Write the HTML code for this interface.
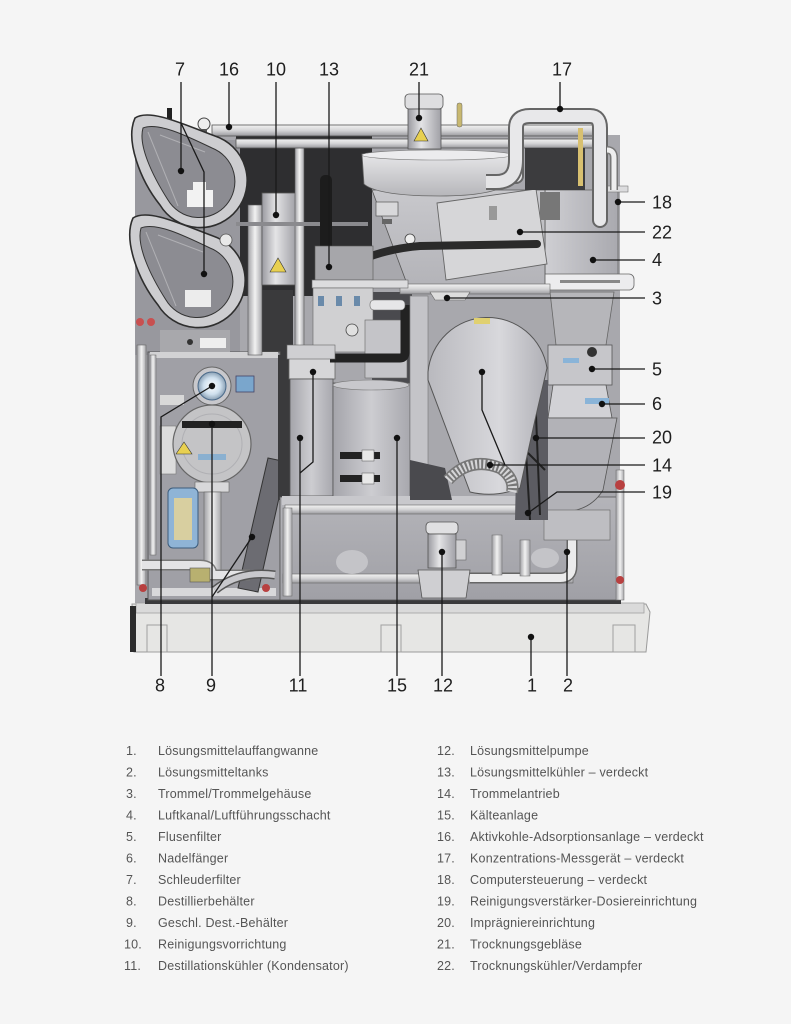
<!DOCTYPE html>
<html><head><meta charset="utf-8"><style>
html,body{margin:0;padding:0;background:#f5f5f5;}
svg{display:block;}
.lb{font-family:"Liberation Sans",sans-serif;font-size:18px;fill:#1e1e1e;}
.lg{font-family:"Liberation Sans",sans-serif;font-size:12.5px;fill:#555;letter-spacing:0.2px;}
</style></head><body>
<svg width="791" height="1024" viewBox="0 0 791 1024" xmlns="http://www.w3.org/2000/svg">
<defs>
<linearGradient id="duct" x1="0" x2="1"><stop offset="0" stop-color="#cfcfd3"/><stop offset="1" stop-color="#a9a9af"/></linearGradient>
<linearGradient id="drum" x1="0" x2="1"><stop offset="0" stop-color="#b9b9be"/><stop offset="0.6" stop-color="#d8d8dc"/><stop offset="1" stop-color="#b0b0b6"/></linearGradient>
<linearGradient id="cyl" x1="0" x2="1"><stop offset="0" stop-color="#9a9aa0"/><stop offset="0.4" stop-color="#e4e4e6"/><stop offset="1" stop-color="#a0a0a6"/></linearGradient>
<linearGradient id="cyl2" x1="0" x2="1"><stop offset="0" stop-color="#a4a4aa"/><stop offset="0.5" stop-color="#cdcdd1"/><stop offset="1" stop-color="#a8a8ae"/></linearGradient>
<linearGradient id="pipeH" x1="0" y1="0" x2="0" y2="1"><stop offset="0" stop-color="#f2f2f2"/><stop offset="0.5" stop-color="#d4d4d6"/><stop offset="1" stop-color="#9a9a9e"/></linearGradient>
<linearGradient id="pipeV" x1="0" x2="1"><stop offset="0" stop-color="#a0a0a4"/><stop offset="0.5" stop-color="#f2f2f2"/><stop offset="1" stop-color="#a8a8ac"/></linearGradient>
<linearGradient id="tank" x1="0" y1="0" x2="0" y2="1"><stop offset="0" stop-color="#b4b4b9"/><stop offset="1" stop-color="#a0a0a6"/></linearGradient>
<linearGradient id="bowl" x1="0" y1="0" x2="0" y2="1"><stop offset="0" stop-color="#e6e6e8"/><stop offset="1" stop-color="#b6b6ba"/></linearGradient>
<linearGradient id="box" x1="0" y1="0" x2="0" y2="1"><stop offset="0" stop-color="#c8c8cc"/><stop offset="1" stop-color="#b2b2b7"/></linearGradient>
<radialGradient id="glass"><stop offset="0" stop-color="#ffffff"/><stop offset="0.6" stop-color="#cfe0ee"/><stop offset="1" stop-color="#8aa0b4"/></radialGradient>
</defs>
<rect width="791" height="1024" fill="#f5f5f5"/>

<!-- ===== back plate ===== -->
<rect x="135" y="135" width="485" height="468" fill="#a8a8ad"/>
<!-- dark center -->
<rect x="236" y="136" width="136" height="160" fill="#2e2e30"/>
<rect x="248" y="290" width="45" height="75" fill="#3a3a3c"/>
<rect x="372" y="292" width="40" height="95" fill="#4a4a4e"/>
<!-- left panel behind filters -->
<rect x="135" y="140" width="105" height="215" fill="#98989e"/>

<!-- ===== base (1) ===== -->
<path d="M132,604 L646,604 L650,612 L646,652 L134,652 Z" fill="#e6e6e4" stroke="#9a9a9a" stroke-width="1"/>
<rect x="136" y="603" width="508" height="10" fill="#dadada" stroke="#a0a0a0" stroke-width="0.8"/>
<rect x="130" y="606" width="6" height="46" fill="#2c2c2c"/>
<rect x="147" y="625" width="20" height="27" fill="none" stroke="#a0a0a0" stroke-width="1"/>
<rect x="381" y="625" width="20" height="27" fill="none" stroke="#a0a0a0" stroke-width="1"/>
<rect x="613" y="625" width="22" height="27" fill="none" stroke="#a0a0a0" stroke-width="1"/>
<rect x="145" y="598" width="476" height="6" fill="#3a3a3c"/>

<!-- ===== lower left cabinet (8/9) ===== -->
<rect x="148" y="352" width="132" height="248" fill="#a0a0a6" stroke="#555" stroke-width="1"/>
<rect x="150" y="352" width="128" height="6" fill="#d2d2d4"/>
<rect x="152" y="588" width="124" height="8" fill="#d8d8da"/>
<!-- sight glass -->
<circle cx="212" cy="386" r="19" fill="#c8c8cc" stroke="#666" stroke-width="1"/>
<circle cx="212" cy="386" r="14" fill="url(#glass)" stroke="#4a6a8a" stroke-width="1"/>
<rect x="236" y="376" width="18" height="16" fill="#7aa6cc" stroke="#446" stroke-width="0.8"/>
<rect x="160" y="395" width="24" height="10" fill="#d8d8d8"/>
<rect x="160" y="426" width="16" height="48" fill="#dcdcdc" stroke="#777" stroke-width="0.6"/>
<!-- disc 9 -->
<circle cx="212" cy="444" r="39" fill="#c4c4c6" stroke="#666" stroke-width="1.2"/>
<circle cx="212" cy="444" r="30" fill="none" stroke="#b0b0b4" stroke-width="1"/>
<rect x="182" y="421" width="60" height="7" fill="#222"/>
<path d="M204,431 L212,419 L220,431 Z" fill="#e8d050" stroke="#333" stroke-width="0.6" transform="translate(-28,23)"/>
<rect x="198" y="454" width="28" height="6" fill="#8ab0d0"/>
<!-- neck below disc -->
<rect x="195" y="482" width="34" height="10" fill="#d8d8da" stroke="#666" stroke-width="0.6"/>
<rect x="204" y="492" width="17" height="80" fill="url(#pipeV)" stroke="#666" stroke-width="0.6"/>
<!-- blue filter -->
<rect x="168" y="488" width="30" height="60" rx="5" fill="#8fb4d6" stroke="#3c5c7c" stroke-width="1"/>
<rect x="174" y="498" width="18" height="42" fill="#d8cfa0"/>
<!-- diagonal bar -->
<path d="M268,458 L287,462 L258,592 L238,588 Z" fill="#6c6c72" stroke="#333" stroke-width="1"/>
<!-- left vertical pipes -->
<rect x="137" y="345" width="9" height="240" fill="url(#pipeV)" stroke="#666" stroke-width="0.6"/>
<rect x="150" y="355" width="6" height="200" fill="url(#pipeV)" stroke="#666" stroke-width="0.5"/>
<!-- bottom pipes -->
<path d="M142,565 L200,565 Q212,565 212,575 L250,575" fill="none" stroke="#777" stroke-width="11"/>
<path d="M142,565 L200,565 Q212,565 212,575 L250,575" fill="none" stroke="#e4e4e6" stroke-width="8"/>
<path d="M215,590 Q240,570 275,575" fill="none" stroke="#555" stroke-width="9"/>
<path d="M215,590 Q240,570 275,575" fill="none" stroke="#c8c8cc" stroke-width="6"/>
<rect x="190" y="568" width="20" height="14" fill="#b8b070" stroke="#555" stroke-width="0.6"/>
<circle cx="143" cy="588" r="4" fill="#b84040"/>
<circle cx="266" cy="588" r="4" fill="#b84040"/>
<circle cx="140" cy="322" r="4" fill="#c85050"/>
<circle cx="151" cy="322" r="4" fill="#c85050"/>

<!-- ===== divider + 11 + 15 ===== -->
<rect x="278" y="355" width="14" height="145" fill="#3a3a3c"/>
<rect x="289" y="357" width="46" height="22" fill="#d6d6d8" stroke="#666" stroke-width="0.8"/>
<rect x="290" y="379" width="43" height="117" fill="url(#cyl2)" stroke="#555" stroke-width="0.8"/>
<rect x="333" y="383" width="77" height="117" fill="url(#cyl2)" stroke="#555" stroke-width="0.8"/>
<ellipse cx="371" cy="385" rx="38" ry="5" fill="#c8c8cc" stroke="#777" stroke-width="0.6"/>
<rect x="340" y="452" width="40" height="7" fill="#222"/>
<rect x="362" y="450" width="12" height="11" fill="#e8e8e8" stroke="#555" stroke-width="0.5"/>
<rect x="340" y="475" width="40" height="7" fill="#222"/>
<rect x="362" y="473" width="12" height="11" fill="#e8e8e8" stroke="#555" stroke-width="0.5"/>
<rect x="410" y="296" width="18" height="204" fill="#c4c4c8" stroke="#777" stroke-width="0.6"/>

<!-- ===== lower right tank (2) ===== -->
<rect x="280" y="497" width="340" height="103" fill="url(#tank)" stroke="#555" stroke-width="0.8"/>
<rect x="282" y="496" width="262" height="9" fill="#c8c8cc"/>
<rect x="285" y="505" width="255" height="9" fill="url(#pipeH)" stroke="#666" stroke-width="0.6"/>
<rect x="283" y="574" width="290" height="9" fill="url(#pipeH)" stroke="#666" stroke-width="0.6"/>
<rect x="283" y="508" width="9" height="88" fill="url(#pipeV)" stroke="#666" stroke-width="0.5"/>
<ellipse cx="352" cy="562" rx="16" ry="12" fill="#c4c4c8"/>
<ellipse cx="545" cy="558" rx="14" ry="10" fill="#c4c4c8"/>
<!-- pump 12 -->
<rect x="426" y="522" width="32" height="12" rx="4" fill="#e0e0e2" stroke="#555" stroke-width="0.8"/>
<rect x="428" y="534" width="28" height="34" fill="url(#cyl)" stroke="#555" stroke-width="0.8"/>
<rect x="456" y="540" width="10" height="20" fill="#d0d0d2" stroke="#666" stroke-width="0.6"/>
<path d="M418,570 L470,570 L466,598 L422,598 Z" fill="#cfcfd2" stroke="#555" stroke-width="0.8"/>
<path d="M470,578 L560,578 Q572,578 572,566 L572,540" fill="none" stroke="#666" stroke-width="11"/>
<path d="M470,578 L560,578 Q572,578 572,566 L572,540" fill="none" stroke="#ebebec" stroke-width="8"/>
<rect x="492" y="535" width="10" height="40" fill="url(#pipeV)" stroke="#666" stroke-width="0.5"/>
<rect x="520" y="540" width="10" height="36" fill="url(#pipeV)" stroke="#666" stroke-width="0.5"/>
<!-- right vertical pipe -->
<rect x="616" y="470" width="8" height="130" fill="url(#pipeV)" stroke="#666" stroke-width="0.5"/>
<circle cx="620" cy="485" r="5" fill="#b84040"/>
<circle cx="620" cy="580" r="4" fill="#b84040"/>

<!-- ===== right column: duct 4, filters 5/6 ===== -->
<rect x="545" y="190" width="73" height="100" fill="url(#duct)" stroke="#666" stroke-width="0.8"/>
<rect x="596" y="186" width="32" height="6" fill="#dcdcde" stroke="#777" stroke-width="0.6"/>
<path d="M550,292 L614,292 L606,345 L556,345 Z" fill="#b6b6ba" stroke="#666" stroke-width="0.8"/>
<rect x="548" y="345" width="64" height="40" fill="#c6c6ca" stroke="#555" stroke-width="0.8"/>
<path d="M553,385 L606,385 L612,418 L548,418 Z" fill="#d2d2d6" stroke="#555" stroke-width="0.8"/>
<rect x="585" y="398" width="24" height="6" fill="#8ab4d8"/>
<circle cx="592" cy="352" r="5" fill="#333"/>
<rect x="563" y="358" width="16" height="5" fill="#8ab4d8"/>
<path d="M546,418 L617,418 L603,490 Q590,512 560,512 L546,512 Z" fill="#b2b2b7" stroke="#555" stroke-width="0.8"/>
<rect x="544" y="510" width="66" height="30" fill="#bebec2" stroke="#666" stroke-width="0.6"/>
<rect x="540" y="274" width="94" height="16" rx="5" fill="#ececee" stroke="#666" stroke-width="0.8"/>
<rect x="560" y="280" width="60" height="3" fill="#888"/>

<!-- ===== drum (3) + mechanisms ===== -->
<path d="M518,380 L548,380 L548,520 L515,520 Z" fill="#5c5c62"/>
<path d="M522,385 L530,520 M535,390 L540,515 M525,450 L545,470" stroke="#222" stroke-width="2" fill="none"/>
<path d="M410,460 L445,468 L452,500 L410,500 Z" fill="#4a4a4e"/>
<path d="M428,372 A60,60 0 0 1 547,368 L535,420 L520,488 Q495,498 470,492 L428,380 Z" fill="url(#drum)" stroke="#555" stroke-width="1"/>
<path d="M448,480 Q470,456 500,468 Q515,478 512,492" fill="none" stroke="#777" stroke-width="12"/>
<path d="M448,480 Q470,456 500,468 Q515,478 512,492" fill="none" stroke="#d6d6d8" stroke-width="9" stroke-dasharray="2 2"/>
<rect x="474" y="318" width="16" height="6" fill="#e0d070"/>

<!-- ===== drying unit (21/22) ===== -->
<path d="M372,190 L545,190 L545,292 L410,292 Z" fill="url(#box)" stroke="#555" stroke-width="0.8"/>
<path d="M362,154 L512,154 L512,180 Q500,196 440,196 Q378,196 364,184 Z" fill="url(#bowl)" stroke="#666" stroke-width="0.8"/>
<ellipse cx="437" cy="155" rx="75" ry="5" fill="#ececee" stroke="#777" stroke-width="0.6"/>
<rect x="376" y="202" width="22" height="14" fill="#d8d8da" stroke="#555" stroke-width="0.7"/>
<rect x="382" y="219" width="10" height="5" fill="#666"/>
<circle cx="410" cy="239" r="5" fill="#eee" stroke="#444" stroke-width="0.8"/>
<path d="M437,203 L536,189 L547,264 L446,280 Z" fill="#d6d6d8" stroke="#666" stroke-width="0.9"/>
<path d="M330,276 Q370,250 420,246 L537,244" fill="none" stroke="#2a2a2a" stroke-width="8" stroke-linecap="round"/>
<rect x="489" y="206" width="8" height="14" fill="#999"/>
<rect x="400" y="284" width="150" height="10" fill="url(#pipeH)" stroke="#666" stroke-width="0.6"/>
<path d="M430,292 L470,292 L465,300 L435,300 Z" fill="#ddd" stroke="#666" stroke-width="0.6"/>

<!-- ===== center area (10,13) ===== -->
<rect x="248" y="205" width="14" height="150" fill="url(#pipeV)" stroke="#555" stroke-width="0.6"/>
<rect x="262" y="193" width="34" height="92" fill="url(#cyl)" stroke="#555" stroke-width="0.8"/>
<path d="M270,272 L278,258 L286,272 Z" fill="#e8d050" stroke="#333" stroke-width="0.6"/>
<rect x="295" y="148" width="9" height="210" fill="url(#pipeV)" stroke="#555" stroke-width="0.6"/>
<rect x="236" y="222" width="132" height="4" fill="#8a8a8e"/>
<rect x="320" y="175" width="12" height="95" rx="5" fill="#1c1c1c"/>
<rect x="315" y="246" width="58" height="34" fill="#a6a6aa" stroke="#555" stroke-width="0.6"/>
<rect x="312" y="280" width="96" height="8" fill="#dcdcde" stroke="#666" stroke-width="0.6"/>
<rect x="313" y="288" width="60" height="64" fill="#d0d0d2" stroke="#666" stroke-width="0.6"/>
<rect x="318" y="296" width="6" height="10" fill="#6a8aaa"/>
<rect x="336" y="296" width="6" height="10" fill="#6a8aaa"/>
<rect x="354" y="296" width="6" height="10" fill="#6a8aaa"/>
<circle cx="352" cy="330" r="6" fill="#e0e0e0" stroke="#444" stroke-width="0.8"/>
<rect x="365" y="320" width="42" height="58" fill="#c4c4c8" stroke="#666" stroke-width="0.6"/>
<path d="M330,358 L400,358 Q405,358 405,352 L405,305" fill="none" stroke="#222" stroke-width="9"/>
<rect x="370" y="300" width="35" height="10" rx="4" fill="#e6e6e8" stroke="#666" stroke-width="0.6"/>
<rect x="287" y="345" width="48" height="14" fill="#cfcfd2" stroke="#666" stroke-width="0.6"/>

<!-- ===== top pipes (16) & motor (21) & pipe 17 ===== -->
<rect x="212" y="125" width="395" height="11" fill="url(#pipeH)" stroke="#555" stroke-width="0.8"/>
<rect x="236" y="139" width="368" height="9" fill="url(#pipeH)" stroke="#555" stroke-width="0.8"/>
<circle cx="204" cy="124" r="6" fill="#eee" stroke="#444" stroke-width="1"/>
<rect x="201" y="129" width="6" height="10" fill="#555"/>
<rect x="167" y="108" width="5" height="18" fill="#222"/>
<rect x="525" y="148" width="60" height="42" fill="#3c3c3e"/>
<rect x="540" y="192" width="20" height="28" fill="#777"/>
<rect x="405" y="94" width="38" height="15" rx="4" fill="#dedee0" stroke="#555" stroke-width="0.8"/>
<rect x="408" y="109" width="33" height="40" fill="url(#cyl)" stroke="#555" stroke-width="0.8"/>
<path d="M414,141 L421,128 L428,141 Z" fill="#e8d050" stroke="#333" stroke-width="0.6"/>
<rect x="457" y="103" width="5" height="24" rx="2" fill="#c8b870" stroke="#666" stroke-width="0.5"/>
<rect x="578" y="128" width="5" height="58" fill="#d8c070"/>
<path d="M516,176 L516,128 Q516,116 530,116 L590,116 Q600,116 600,128 L600,220" fill="none" stroke="#666" stroke-width="16" stroke-linecap="round"/>
<path d="M516,176 L516,128 Q516,116 530,116 L590,116 Q600,116 600,128 L600,220" fill="none" stroke="#e8e8ea" stroke-width="12" stroke-linecap="round"/>
<path d="M516,160 Q516,182 496,182 L486,182" fill="none" stroke="#666" stroke-width="16"/>
<path d="M516,160 Q516,182 496,182 L486,182" fill="none" stroke="#e4e4e6" stroke-width="12"/>
<path d="M607,150 Q614,150 614,158 L614,190" fill="none" stroke="#777" stroke-width="8"/>
<path d="M607,150 Q614,150 614,158 L614,190" fill="none" stroke="#eee" stroke-width="5"/>

<!-- ===== filters (7) ===== -->
<g>
<path d="M135,118 C150,108 185,125 215,136 A47,47 0 1 1 160,205 C140,180 125,140 135,118 Z" fill="#cdcdd0" stroke="#2e2e2e" stroke-width="1.6"/>
<path d="M143,128 C158,122 185,135 212,148 A36,36 0 1 1 168,200 C152,175 138,145 143,128 Z" fill="#8c8c92" stroke="#333" stroke-width="1"/>
<path d="M148,132 L178,206 M160,135 L205,152" stroke="#b0b0b4" stroke-width="1" fill="none"/>
<rect x="187" y="190" width="26" height="17" fill="#f2f2f2"/>
<rect x="193" y="182" width="13" height="9" fill="#f2f2f2"/>
</g>
<g transform="translate(-2,100)">
<path d="M135,118 C150,108 185,125 215,136 A47,47 0 1 1 160,205 C140,180 125,140 135,118 Z" fill="#cdcdd0" stroke="#2e2e2e" stroke-width="1.6"/>
<path d="M143,128 C158,122 185,135 212,148 A36,36 0 1 1 168,200 C152,175 138,145 143,128 Z" fill="#8c8c92" stroke="#333" stroke-width="1"/>
<path d="M148,132 L178,206 M160,135 L205,152" stroke="#b0b0b4" stroke-width="1" fill="none"/>
<rect x="187" y="190" width="26" height="17" fill="#ececec"/>
</g>
<rect x="160" y="330" width="70" height="22" fill="#a8a8ac"/>
<rect x="200" y="338" width="26" height="10" fill="#eee"/>
<circle cx="190" cy="342" r="3" fill="#333"/>
<circle cx="226" cy="240" r="6" fill="#e8e8e8" stroke="#555" stroke-width="0.8"/>

<!-- ===== leader lines ===== -->
<g stroke="#1a1a1a" stroke-width="1.3" fill="none">
<path d="M181,82 L181,171"/>
<path d="M181,123 L204,172 L204,274"/>
<path d="M229,82 L229,127"/>
<path d="M276,82 L276,215"/>
<path d="M329,82 L329,267"/>
<path d="M419,82 L419,118"/>
<path d="M560,82 L560,109"/>
<path d="M618,202 L645,202"/>
<path d="M520,232 L645,232"/>
<path d="M593,260 L645,260"/>
<path d="M447,298 L645,298"/>
<path d="M592,369 L645,369"/>
<path d="M602,404 L645,404"/>
<path d="M536,438 L645,438"/>
<path d="M490,465 L645,465"/>
<path d="M482,372 L482,410 L505,465"/>
<path d="M645,492 L557,492 L528,513"/>
<path d="M161,676 L161,417 L212,386"/>
<path d="M212,676 L212,424"/>
<path d="M212,597 L252,537"/>
<path d="M300,676 L300,438"/>
<path d="M300,473 L313,462 L313,372"/>
<path d="M397,676 L397,438"/>
<path d="M442,676 L442,552"/>
<path d="M531,676 L531,637"/>
<path d="M567,676 L567,552"/>
</g>
<g fill="#111">
<circle cx="181" cy="171" r="3.2"/><circle cx="204" cy="274" r="3.2"/>
<circle cx="229" cy="127" r="3.2"/><circle cx="276" cy="215" r="3.2"/>
<circle cx="329" cy="267" r="3.2"/><circle cx="419" cy="118" r="3.2"/>
<circle cx="560" cy="109" r="3.2"/><circle cx="618" cy="202" r="3.2"/>
<circle cx="520" cy="232" r="3.2"/><circle cx="593" cy="260" r="3.2"/>
<circle cx="447" cy="298" r="3.2"/><circle cx="592" cy="369" r="3.2"/>
<circle cx="602" cy="404" r="3.2"/><circle cx="536" cy="438" r="3.2"/>
<circle cx="490" cy="465" r="3.2"/><circle cx="482" cy="372" r="3.2"/>
<circle cx="528" cy="513" r="3.2"/><circle cx="212" cy="386" r="3.2"/>
<circle cx="212" cy="424" r="3.2"/><circle cx="252" cy="537" r="3.2"/>
<circle cx="300" cy="438" r="3.2"/><circle cx="313" cy="372" r="3.2"/>
<circle cx="397" cy="438" r="3.2"/><circle cx="442" cy="552" r="3.2"/>
<circle cx="531" cy="637" r="3.2"/><circle cx="567" cy="552" r="3.2"/>
</g>

<!-- ===== labels ===== -->
<g class="lb" text-anchor="middle">
<text x="180" y="75.5">7</text>
<text x="229" y="75.5">16</text>
<text x="276" y="75.5">10</text>
<text x="329" y="75.5">13</text>
<text x="419" y="75.5">21</text>
<text x="562" y="75.5">17</text>
<text x="160" y="691.5">8</text>
<text x="211" y="691.5">9</text>
<text x="298" y="691.5">11</text>
<text x="397" y="691.5">15</text>
<text x="443" y="691.5">12</text>
<text x="532" y="691.5">1</text>
<text x="568" y="691.5">2</text>
</g>
<g class="lb">
<text x="652" y="208.5">18</text>
<text x="652" y="238.5">22</text>
<text x="652" y="266">4</text>
<text x="652" y="304.5">3</text>
<text x="652" y="375.5">5</text>
<text x="652" y="410">6</text>
<text x="652" y="443.5">20</text>
<text x="652" y="471.5">14</text>
<text x="652" y="498.5">19</text>
</g>

<!-- ===== legend ===== -->
<g class="lg">
<text x="126" y="755">1.</text><text x="158" y="755">Lösungsmittelauffangwanne</text>
<text x="126" y="776.5">2.</text><text x="158" y="776.5">Lösungsmitteltanks</text>
<text x="126" y="798">3.</text><text x="158" y="798">Trommel/Trommelgehäuse</text>
<text x="126" y="819.5">4.</text><text x="158" y="819.5">Luftkanal/Luftführungsschacht</text>
<text x="126" y="841">5.</text><text x="158" y="841">Flusenfilter</text>
<text x="126" y="862.5">6.</text><text x="158" y="862.5">Nadelfänger</text>
<text x="126" y="884">7.</text><text x="158" y="884">Schleuderfilter</text>
<text x="126" y="905.5">8.</text><text x="158" y="905.5">Destillierbehälter</text>
<text x="126" y="927">9.</text><text x="158" y="927">Geschl. Dest.-Behälter</text>
<text x="124" y="948.5">10.</text><text x="158" y="948.5">Reinigungsvorrichtung</text>
<text x="124" y="970">11.</text><text x="158" y="970">Destillationskühler (Kondensator)</text>

<text x="437" y="755">12.</text><text x="470" y="755">Lösungsmittelpumpe</text>
<text x="437" y="776.5">13.</text><text x="470" y="776.5">Lösungsmittelkühler – verdeckt</text>
<text x="437" y="798">14.</text><text x="470" y="798">Trommelantrieb</text>
<text x="437" y="819.5">15.</text><text x="470" y="819.5">Kälteanlage</text>
<text x="437" y="841">16.</text><text x="470" y="841">Aktivkohle-Adsorptionsanlage – verdeckt</text>
<text x="437" y="862.5">17.</text><text x="470" y="862.5">Konzentrations-Messgerät – verdeckt</text>
<text x="437" y="884">18.</text><text x="470" y="884">Computersteuerung – verdeckt</text>
<text x="437" y="905.5">19.</text><text x="470" y="905.5">Reinigungsverstärker-Dosiereinrichtung</text>
<text x="437" y="927">20.</text><text x="470" y="927">Imprägniereinrichtung</text>
<text x="437" y="948.5">21.</text><text x="470" y="948.5">Trocknungsgebläse</text>
<text x="437" y="970">22.</text><text x="470" y="970">Trocknungskühler/Verdampfer</text>
</g>
</svg>
</body></html>
